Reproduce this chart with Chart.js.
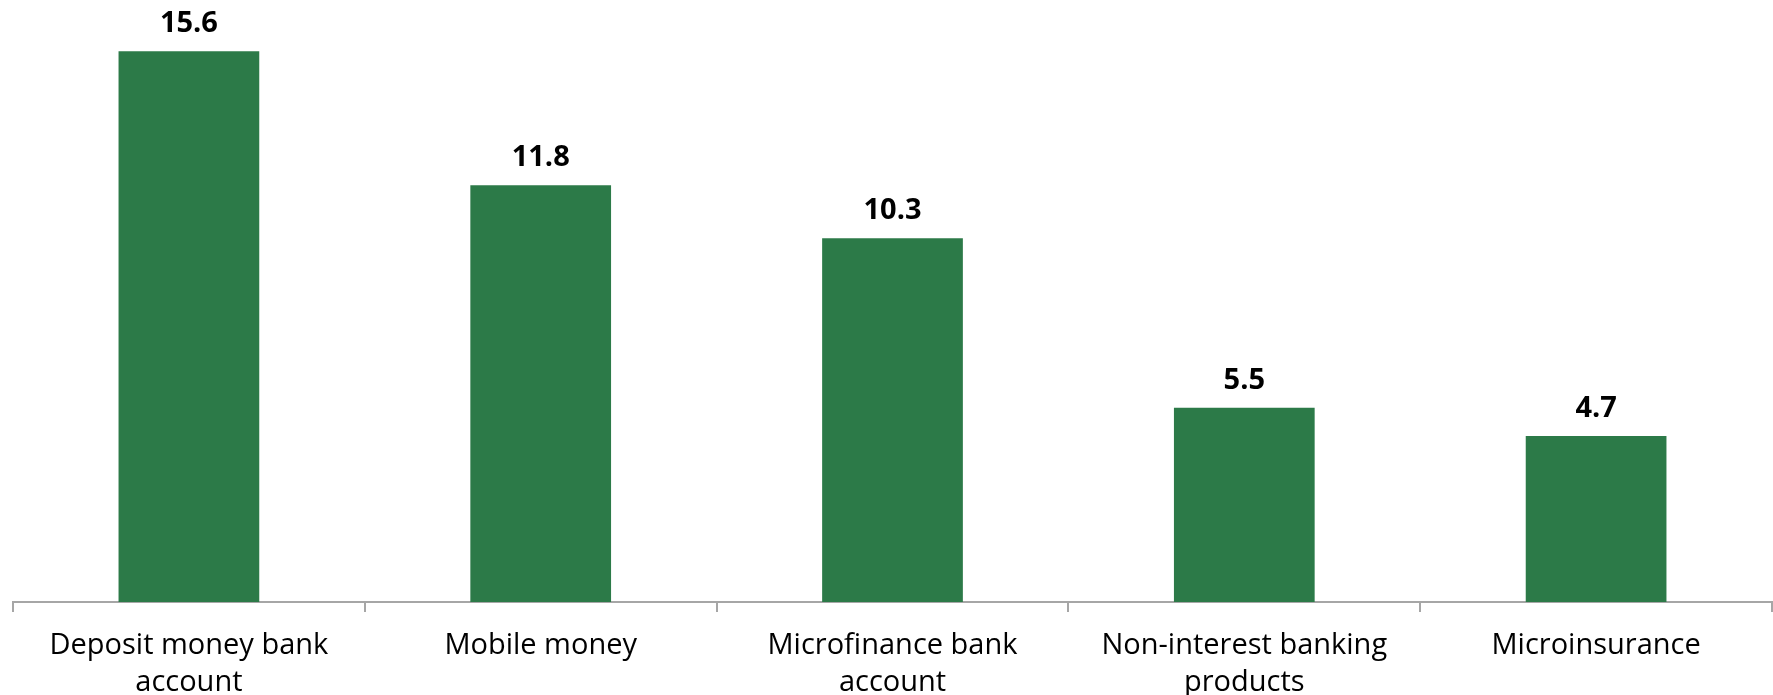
<!DOCTYPE html>
<html>
<head>
<meta charset="utf-8">
<script src="https://cdn.jsdelivr.net/npm/chart.js@4/dist/chart.umd.min.js"></script>
<style>
    html, body { margin: 0; padding: 0; background: #ffffff; }
    #grafico { display: block; }
</style>
</head>
<body>
<canvas id="grafico" width="1773" height="695"></canvas>
<script>
// Datos del grafico
const categorias = [
    ['Deposit money bank', 'account'],
    'Mobile money',
    ['Microfinance bank', 'account'],
    ['Non-interest banking', 'products'],
    'Microinsurance'
]
const valores = [15.6, 11.8, 10.3, 5.5, 4.7]
const colorBarra = '#2c7a48'

// Etiquetas de valor encima de cada barra
const etiquetasValor = {
    id: 'etiquetasValor',
    afterDatasetsDraw(chart) {
        const ctx = chart.ctx
        const meta = chart.getDatasetMeta(0)
        ctx.save()
        ctx.fillStyle = '#000000'
        ctx.font = 'bold 29px "Open Sans"'
        ctx.textAlign = 'center'
        ctx.textBaseline = 'alphabetic'
        meta.data.forEach((barra, i) => {
            ctx.fillText(valores[i].toFixed(1), barra.x, barra.y - 19)
        })
        ctx.restore()
    }
}

const contexto = document.getElementById('grafico').getContext('2d')
const grafico = new Chart(contexto, {
    type: 'bar',
    data: {
        labels: categorias,
        datasets: [{
            label: '',
            data: valores,
            backgroundColor: colorBarra,
            borderWidth: 0,
            categoryPercentage: 1,
            barPercentage: 0.4
        }]
    },
    options: {
        responsive: false,
        animation: false,
        layout: {
            padding: { top: 37, left: 13, right: 1, bottom: 0 }
        },
        plugins: {
            legend: { display: false },
            title: { display: false },
            tooltip: { enabled: false }
        },
        scales: {
            y: {
                display: false,
                min: 0,
                max: 16
            },
            x: {
                grid: {
                    display: true,
                    drawOnChartArea: false,
                    offset: true,
                    tickLength: 10,
                    color: '#a6a6a6',
                    lineWidth: 2
                },
                border: {
                    display: true,
                    color: '#a6a6a6',
                    width: 2
                },
                ticks: {
                    color: '#000000',
                    padding: 15,
                    maxRotation: 0,
                    autoSkip: false,
                    font: { family: '"Open Sans"', size: 29, lineHeight: 1.28 }
                },
                afterFit: function(scale) {
                    scale.height = 93
                }
            }
        }
    },
    plugins: [etiquetasValor]
})
</script>
</body>
</html>
